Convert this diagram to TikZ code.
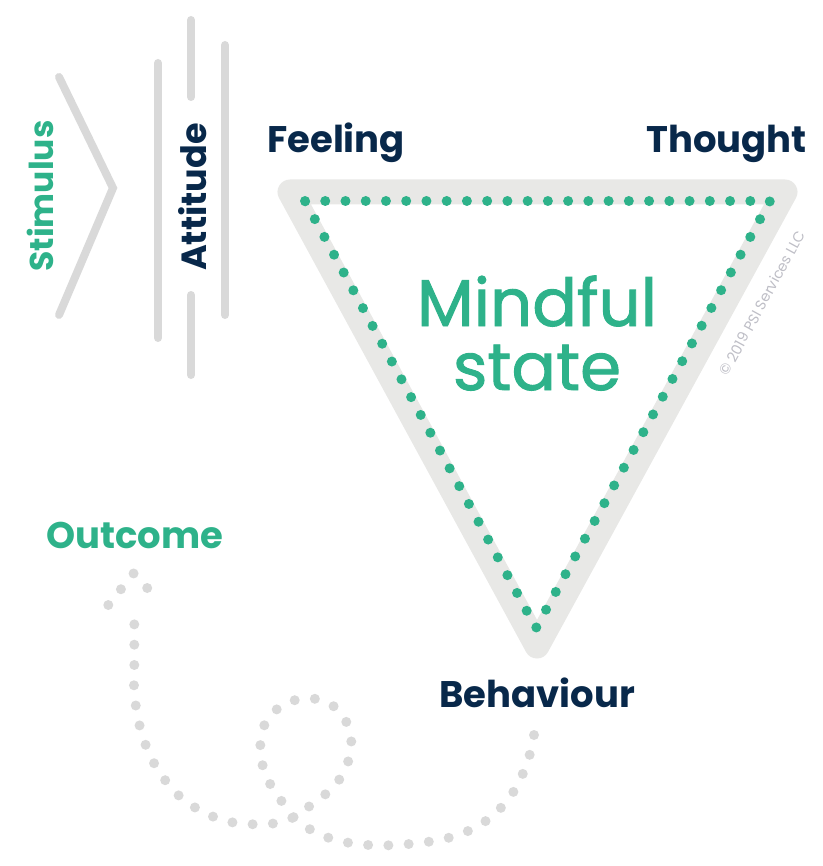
\documentclass[tikz,border=0pt]{standalone}
\usepackage{fontspec}
\setmainfont{Poppins}
\newfontfamily\mindfont{Poppins}[FakeBold=1.4]
\usetikzlibrary{positioning}

\definecolor{mgreen}{RGB}{46,178,138}
\definecolor{navy}{RGB}{8,40,74}
\definecolor{bandgray}{RGB}{232,232,230}
\definecolor{lgray}{RGB}{217,217,217}
\definecolor{copygray}{RGB}{190,190,198}

\begin{document}
\begin{tikzpicture}[x=1pt, y=-1pt,
  lbl/.style={font=\fontsize{37}{37}\selectfont\bfseries, text=navy, inner sep=0pt},
  glbl/.style={lbl, text=mgreen},
  bar/.style={draw=lgray, line width=8pt, line cap=round},
  dotline/.style={draw=lgray, line width=10pt, line cap=round, dash pattern=on 0pt off 20.3pt}
]
\useasboundingbox (0,0) rectangle (822,866);

% stimulus and attitude
\draw[bar] (59,77) -- (113,188) -- (59,315);
\draw[bar] (158,63) -- (158,338);
\draw[bar] (191,20) -- (191,97);
\draw[bar] (191,295) -- (191,375);
\draw[bar] (225,45) -- (225,315);
\node[glbl, font=\fontsize{33}{33}\selectfont\bfseries, rotate=90, anchor=base] (stim) at (53,196) {Stimulus};
\node[lbl, font=\fontsize{35}{35}\selectfont\bfseries, rotate=90, anchor=base] (att) at (206,197) {Attitude};

% triangle
\draw[bandgray, line width=25pt, line join=round] (290,192) -- (785,192) -- (537,646) -- cycle;
\draw[mgreen, line width=10pt, line cap=round, dash pattern=on 0pt off 20.24pt]
  (305,201) -- (770,201) -- (536,628) -- cycle;
\node[font=\fontsize{66}{64}\selectfont\mindfont, text=mgreen, align=center, inner sep=0pt, anchor=base] (mind) at (537,390) {Mindful\\state};
\node[font=\fontsize{14.5}{14.5}\selectfont, text=copygray, rotate=61.3, inner sep=0pt] (copy) at (762,303) {© 2019 PSI Services LLC};

% corner labels
\node[lbl, anchor=base west] (feel) at (267,152.7) {Feeling};
\node[lbl, anchor=base east] (thought) at (807,152.7) {Thought};
\node[lbl, anchor=base] (beh) at (537,707.7) {Behaviour};
\node[glbl, anchor=base] (out) at (135,548.3) {Outcome};

% path from behaviour back to outcome
\coordinate (pstart) at (534,735);
\coordinate (ptip) at (134.3,606);
\draw[dotline] plot[smooth, tension=0.5] coordinates {(pstart) (529.7,754.7) (522.7,774) (513.3,792) (501,807.7)
  (485.7,821) (468,831) (449,837.7) (429,841.7) (409,844) (388.7,845.3) (368.3,845) (348.3,842.7)
  (328.3,837.7) (310,829.3) (293.7,817.3) (281.7,801.3) (270.3,784.3) (262.7,765.7) (260.3,745.7)
  (264.3,725.3) (276.3,709.7) (294.3,700.3) (314.3,698.7) (333.3,706) (346,721.3) (351.3,741)
  (348.3,761) (339.7,779) (325.7,794) (309.7,806) (293.7,817.3) (274.7,823.3) (254.3,824.3)
  (234,822.7) (214.7,817.3) (196.3,808.3) (180,796.7) (166.3,781.7) (155,765) (146.3,746.7)
  (140,727.3) (136,707.3) (134,687) (134.3,667) (134.3,646.7) (134.3,626.7) (ptip)};
\coordinate (hleft) at (108.3,605);
\coordinate (htop) at (133.7,573.3);
\coordinate (hright) at (160.7,602.7);
\draw[dotline, dash pattern=on 0pt off 20.2pt] (hleft) -- (htop) -- (hright);
\end{tikzpicture}
\end{document}
